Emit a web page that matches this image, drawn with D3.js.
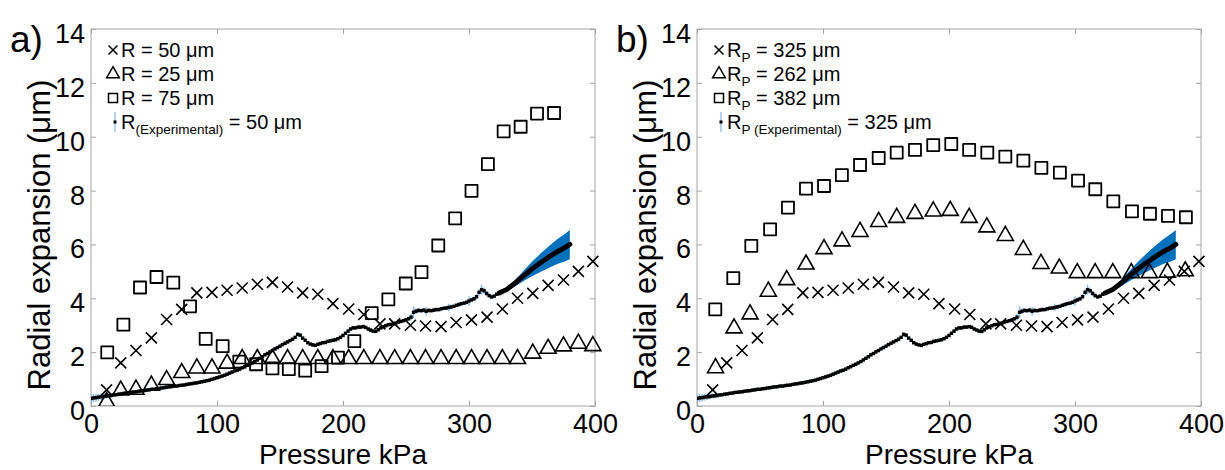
<!DOCTYPE html>
<html>
<head>
<meta charset="utf-8">
<script src="https://cdn.jsdelivr.net/npm/d3@7"></script>
<style>
  body { margin: 0; background: #fff; }
  text { font-family: "Liberation Sans", Arial, Helvetica, sans-serif; }
</style>
</head>
<body>
<div id="holder"></div>
<script>
// ---- data ----
var xTicks = [0, 100, 200, 300, 400];
var yTicks = [0, 2, 4, 6, 8, 10, 12, 14];

// cross series (R = 50 um / Rp = 325 um), same in both panels
var crossP = [12.4, 23.6, 35.7, 47.9, 60, 72, 84, 96, 108, 120, 132, 144, 156, 168, 180, 192, 204.5,
              216.5, 229.3, 241, 253.5, 265.5, 277.8, 289.8, 302, 314.3, 326.5, 338.5, 350.6, 362.8, 375, 386.8, 398.3];
var crossV = [0.6, 1.6, 2.06, 2.53, 3.21, 3.59, 4.2, 4.22, 4.3, 4.38, 4.52, 4.59, 4.42, 4.2, 4.15, 3.8, 3.6,
              3.4, 3.05, 3.05, 3.0, 2.97, 2.95, 3.1, 3.2, 3.3, 3.6, 4.0, 4.18, 4.48, 4.68, 5.0, 5.37];

// panel a: triangles (R = 25 um)
var triA_P = [12.4, 23.6, 35.7, 47.9, 60, 72, 84, 96, 108, 120, 132, 144, 156, 168, 180, 192, 204.5,
              216.5, 229.3, 241, 253.5, 265.5, 277.8, 289.8, 302, 314.3, 326.5, 338.5, 350.6, 362.8, 375, 386.8, 398.3];
var triA_V = [0.2, 0.63, 0.66, 0.81, 1.02, 1.28, 1.45, 1.45, 1.63, 1.8, 1.8, 1.8, 1.8, 1.8, 1.8, 1.8, 1.8,
              1.8, 1.8, 1.8, 1.8, 1.8, 1.8, 1.8, 1.8, 1.8, 1.8, 1.8, 2.0, 2.18, 2.27, 2.37, 2.28];

// panel a: squares (R = 75 um)
var sqA_P = [12.9, 25.7, 38.9, 52, 65.3, 78.6, 91, 104.5, 117.7, 131, 144, 157, 170, 183, 196, 209,
             222.8, 236, 249.8, 262.3, 275.6, 289, 302, 315, 327.5, 341, 354, 367.5];
var sqA_V = [1.99, 3.02, 4.4, 4.79, 4.58, 3.7, 2.49, 2.22, 1.65, 1.55, 1.4, 1.37, 1.31, 1.48, 1.8, 2.41,
             3.45, 3.96, 4.55, 4.97, 5.96, 6.97, 7.99, 8.98, 10.2, 10.37, 10.86, 10.88];

// panel b: triangles (Rp = 262 um)
var triB_P = [14.7, 29.4, 42.1, 56.6, 71.2, 86.5, 100.8, 115.1, 129.4, 144.2, 158.5, 173, 187.5, 201,
              216, 230, 244.7, 259, 273, 287.5, 301.8, 316, 330, 344.7, 359, 373.3, 387.5];
var triB_V = [1.46, 2.94, 3.46, 4.3, 4.73, 5.31, 5.88, 6.17, 6.52, 6.89, 7.04, 7.19, 7.28, 7.3,
              7.04, 6.69, 6.37, 5.85, 5.33, 5.16, 4.99, 4.99, 4.99, 4.99, 4.99, 5.01, 5.06];

// panel b: squares (Rp = 382 um)
var sqB_P = [14.5, 28.8, 43.1, 58, 72.2, 86.5, 100.8, 115, 129.4, 144.2, 158.5, 173, 187.5, 201.8,
             216, 230.4, 244.7, 259, 273.3, 288, 302.4, 316.1, 330.4, 345.2, 359.5, 373.8, 388];
var sqB_V = [3.59, 4.75, 5.95, 6.56, 7.37, 8.07, 8.17, 8.57, 8.95, 9.21, 9.41, 9.51, 9.69, 9.73,
             9.51, 9.41, 9.26, 9.11, 8.84, 8.67, 8.37, 8.05, 7.6, 7.23, 7.14, 7.06, 7.01];

// experimental (same in both panels): pressure, expansion, error
var expP = [0,2,4,6,8,10,12,14,16,18,20,22,24,26,28,30,32,34,36,38,40,42,44,46,48,50,52,54,56,58,
            60,62,64,66,68,70,72,74,76,78,80,82,84,86,88,90,92,94,96,98,100,102,104,106,108,110,112,114,116,118,
            120,122,124,126,128,130,132,134,136,138,140,142,144,146,148,150,152,154,156,158,160,162,164,166,168,170,172,174,176,178,
            180,182,184,186,188,190,192,194,196,198,200,202,204,206,208,210,212,214,216,218,220,222,224,226,228,230,232,234,236,238,
            240,242,244,246,248,250,252,254,256,258,260,262,264,266,268,270,272,274,276,278,280,282,284,286,288,290,292,294,296,298,
            300,302,304,306,308,310,312,314,316,318,320,322,324];
var expV = [0.28,0.30,0.31,0.33,0.34,0.35,0.37,0.38,0.39,0.41,0.42,0.44,0.45,0.47,0.48,0.50,0.51,0.52,0.53,0.55,
            0.56,0.57,0.59,0.60,0.62,0.62,0.64,0.65,0.67,0.68,0.70,0.71,0.72,0.74,0.74,0.76,0.77,0.78,0.80,0.82,
            0.83,0.85,0.86,0.88,0.90,0.92,0.94,0.96,0.99,1.02,1.05,1.08,1.11,1.14,1.18,1.22,1.26,1.30,1.33,1.37,
            1.42,1.46,1.51,1.55,1.60,1.65,1.71,1.77,1.83,1.90,1.95,2.01,2.06,2.12,2.17,2.22,2.28,2.33,2.38,2.43,
            2.48,2.55,2.66,2.63,2.52,2.44,2.35,2.30,2.27,2.25,2.29,2.32,2.35,2.36,2.40,2.42,2.44,2.46,2.50,2.55,
            2.62,2.70,2.78,2.86,2.90,2.90,2.93,2.93,2.95,2.92,2.86,2.82,2.78,2.77,2.83,2.90,2.94,2.98,3.02,3.03,
            3.06,3.08,3.12,3.14,3.17,3.20,3.24,3.30,3.48,3.52,3.55,3.54,3.56,3.52,3.55,3.54,3.56,3.58,3.58,3.61,
            3.63,3.64,3.66,3.68,3.70,3.74,3.77,3.80,3.82,3.85,3.90,3.94,3.98,4.06,4.22,4.32,4.28,4.18,4.10,4.05,
            4.08,4.15,4.20];
var expE = [0.16,0.15,0.14,0.13,0.12,0.10,0.09,0.08,0.07,0.07,0.06,0.06,0.06,0.06,0.06,0.06,0.06,0.06,0.06,0.06,
            0.06,0.06,0.06,0.06,0.06,0.06,0.06,0.06,0.06,0.06,0.06,0.06,0.06,0.06,0.06,0.06,0.06,0.06,0.06,0.06,
            0.06,0.06,0.06,0.06,0.06,0.06,0.06,0.06,0.06,0.06,0.06,0.06,0.06,0.06,0.06,0.06,0.06,0.06,0.06,0.06,
            0.06,0.06,0.06,0.06,0.06,0.06,0.06,0.06,0.06,0.06,0.06,0.06,0.06,0.06,0.06,0.06,0.06,0.06,0.06,0.06,
            0.06,0.06,0.08,0.08,0.06,0.06,0.06,0.06,0.06,0.06,0.06,0.06,0.06,0.06,0.06,0.06,0.06,0.06,0.06,0.06,
            0.06,0.06,0.06,0.06,0.06,0.06,0.06,0.06,0.06,0.06,0.06,0.06,0.06,0.06,0.06,0.06,0.06,0.06,0.06,0.06,
            0.06,0.06,0.08,0.06,0.06,0.06,0.08,0.12,0.22,0.10,0.08,0.06,0.08,0.16,0.08,0.06,0.06,0.08,0.06,0.06,
            0.06,0.08,0.14,0.08,0.06,0.06,0.08,0.06,0.06,0.08,0.18,0.08,0.08,0.10,0.12,0.18,0.12,0.10,0.08,0.06,
            0.06,0.06,0.06];

// fitted extension with band
var fitP  = [324, 330, 337, 344, 350, 357, 364, 370, 376, 380];
var fitV  = [4.20, 4.33, 4.58, 4.86, 5.09, 5.33, 5.55, 5.73, 5.88, 6.00];
var fitLo = [4.18, 4.27, 4.46, 4.66, 4.82, 4.99, 5.14, 5.27, 5.37, 5.45];
var fitHi = [4.22, 4.39, 4.70, 5.06, 5.36, 5.67, 5.96, 6.19, 6.39, 6.54];

// ---- layout ----
var width = 1225, height = 470;
var svg = d3.select("#holder").append("svg")
            .attr("width", width)
            .attr("height", height);

var bandBlue = "#0072bd";
var errBlue = "#7fb8e6";
var grey = "#a6a6a6";

function zip(a, b) { return a.map(function(v, i) { return [v, b[i]]; }); }

// marker paths
function crossPath(s) { return "M" + (-s) + "," + (-s) + "L" + s + "," + s + "M" + (-s) + "," + s + "L" + s + "," + (-s); }
function triPath() { return "M0,-8L8,6L-8,6Z"; }
function squarePath(s) { return "M" + (-s) + "," + (-s) + "H" + s + "V" + s + "H" + (-s) + "Z"; }

function drawPanel(left, right, label, tri, sq, legendRows) {
  var top = 29, bottom = 406;
  var x = d3.scaleLinear().domain([0, 400]).range([left, right]);
  var y = d3.scaleLinear().domain([0, 14]).range([bottom, top]);
  var g = svg.append("g");

  // clip for marks
  var clipId = "clip" + label;
  svg.append("clipPath").attr("id", clipId)
     .append("rect").attr("x", left).attr("y", top - 20).attr("width", right - left + 12).attr("height", bottom - top + 20);

  // axes with inward ticks
  g.append("g").attr("transform", "translate(0," + bottom + ")")
   .call(d3.axisBottom(x).tickValues(xTicks).tickSize(-5).tickPadding(8).tickFormat(d3.format("d")))
   .call(function(a) { a.select(".domain").remove(); a.selectAll("line").attr("stroke", grey);
                       a.selectAll("text").attr("font-size", 27).attr("fill", "#000"); });
  g.append("g").attr("transform", "translate(0," + top + ")")
   .call(d3.axisTop(x).tickValues(xTicks).tickSize(-5).tickFormat(""))
   .call(function(a) { a.select(".domain").remove(); a.selectAll("line").attr("stroke", grey); });
  g.append("g").attr("transform", "translate(" + left + ",0)")
   .call(d3.axisLeft(y).tickValues(yTicks).tickSize(-5).tickPadding(6))
   .call(function(a) { a.select(".domain").remove(); a.selectAll("line").attr("stroke", grey);
                       a.selectAll("text").attr("font-size", 27).attr("fill", "#000").attr("dy", "0.5em"); });
  g.append("g").attr("transform", "translate(" + right + ",0)")
   .call(d3.axisRight(y).tickValues(yTicks).tickSize(-5).tickFormat(""))
   .call(function(a) { a.select(".domain").remove(); a.selectAll("line").attr("stroke", grey); });

  g.append("rect").attr("x", left).attr("y", top).attr("width", right - left).attr("height", bottom - top)
   .attr("fill", "none").attr("stroke", grey).attr("stroke-width", 1);

  var marks = g.append("g").attr("clip-path", "url(#" + clipId + ")");

  // experimental error bars and points
  var exp = expP.map(function(p, i) { return {p: p, v: expV[i], e: expE[i]}; });
  marks.append("g").selectAll("line").data(exp).enter().append("line")
       .attr("x1", function(d) { return x(d.p); }).attr("x2", function(d) { return x(d.p); })
       .attr("y1", function(d) { return y(d.v - d.e); }).attr("y2", function(d) { return y(d.v + d.e); })
       .attr("stroke", errBlue).attr("stroke-width", 1.4);
  marks.append("g").selectAll("rect").data(exp).enter().append("rect")
       .attr("x", function(d) { return x(d.p) - 1.7; }).attr("y", function(d) { return y(d.v) - 1.7; })
       .attr("width", 3.4).attr("height", 3.4).attr("fill", "#000");

  // fitted band + line
  var fit = fitP.map(function(p, i) { return {p: p, v: fitV[i], lo: fitLo[i], hi: fitHi[i]}; });
  marks.append("path").datum(fit)
       .attr("d", d3.area().x(function(d) { return x(d.p); }).y0(function(d) { return y(d.lo); }).y1(function(d) { return y(d.hi); }))
       .attr("fill", bandBlue);
  marks.append("path").datum(fit)
       .attr("d", d3.line().x(function(d) { return x(d.p); }).y(function(d) { return y(d.v); }))
       .attr("fill", "none").attr("stroke", "#000").attr("stroke-width", 5).attr("stroke-linecap", "round");

  // model markers
  marks.append("g").selectAll("path").data(zip(crossP, crossV)).enter().append("path")
       .attr("transform", function(d) { return "translate(" + x(d[0]) + "," + y(d[1]) + ")"; })
       .attr("d", crossPath(5.5)).attr("stroke", "#000").attr("stroke-width", 1.6).attr("fill", "none");
  marks.append("g").selectAll("path").data(tri).enter().append("path")
       .attr("transform", function(d) { return "translate(" + x(d[0]) + "," + y(d[1]) + ")"; })
       .attr("d", triPath()).attr("stroke", "#000").attr("stroke-width", 1.6).attr("fill", "none");
  marks.append("g").selectAll("path").data(sq).enter().append("path")
       .attr("transform", function(d) { return "translate(" + x(d[0]) + "," + y(d[1]) + ")"; })
       .attr("d", squarePath(6)).attr("stroke", "#000").attr("stroke-width", 1.8).attr("fill", "none")
       .attr("stroke-linejoin", "round");

  // axis titles
  var cx = (left + right) / 2;
  g.append("text").attr("x", cx).attr("y", 464).attr("text-anchor", "middle")
   .attr("font-size", 28).text("Pressure kPa");
  g.append("text").attr("transform", "translate(" + (left - 41) + "," + 235 + ") rotate(-90)")
   .attr("text-anchor", "middle").attr("font-size", 31).text("Radial expansion (\u03bcm)");
  g.append("text").attr("x", left - 81).attr("y", 52).attr("font-size", 37).text(label + ")");

  // legend
  var lx = left + 22, rows = [50, 74, 98, 122];
  var leg = g.append("g");
  leg.append("path").attr("transform", "translate(" + lx + "," + rows[0] + ")").attr("d", crossPath(4.5))
     .attr("stroke", "#000").attr("stroke-width", 1.5);
  leg.append("path").attr("transform", "translate(" + lx + "," + (rows[1] - 1) + ") scale(0.8)").attr("d", triPath())
     .attr("stroke", "#000").attr("stroke-width", 1.8).attr("fill", "none");
  leg.append("path").attr("transform", "translate(" + lx + "," + rows[2] + ")").attr("d", squarePath(4.5))
     .attr("stroke", "#000").attr("stroke-width", 1.5).attr("fill", "none");
  leg.append("line").attr("x1", lx + 2).attr("x2", lx + 2).attr("y1", rows[3] - 10).attr("y2", rows[3] + 10)
     .attr("stroke", errBlue).attr("stroke-width", 1.2);
  leg.append("rect").attr("x", lx + 0.5).attr("y", rows[3] - 1.5).attr("width", 3).attr("height", 3).attr("fill", "#000");

  legendRows.forEach(function(r, i) {
    var t = leg.append("text").attr("x", lx + 8).attr("y", rows[i] + 7).attr("font-size", 20);
    t.append("tspan").text(r[0]);
    if (r[1]) t.append("tspan").attr("font-size", 13.5).attr("dy", 5).text(r[1]);
    t.append("tspan").attr("font-size", 20).attr("dy", r[1] ? -5 : 0).text(r[2]);
  });
}

drawPanel(91, 595, "a", zip(triA_P, triA_V), zip(sqA_P, sqA_V), [
  ["R = 50 \u03bcm", null, ""],
  ["R = 25 \u03bcm", null, ""],
  ["R = 75 \u03bcm", null, ""],
  ["R", "(Experimental)", " = 50 \u03bcm"]
]);
drawPanel(697, 1201, "b", zip(triB_P, triB_V), zip(sqB_P, sqB_V), [
  ["R", "P", " = 325 \u03bcm"],
  ["R", "P", " = 262 \u03bcm"],
  ["R", "P", " = 382 \u03bcm"],
  ["R", "P (Experimental)", " = 325 \u03bcm"]
]);
</script>
</body>
</html>
